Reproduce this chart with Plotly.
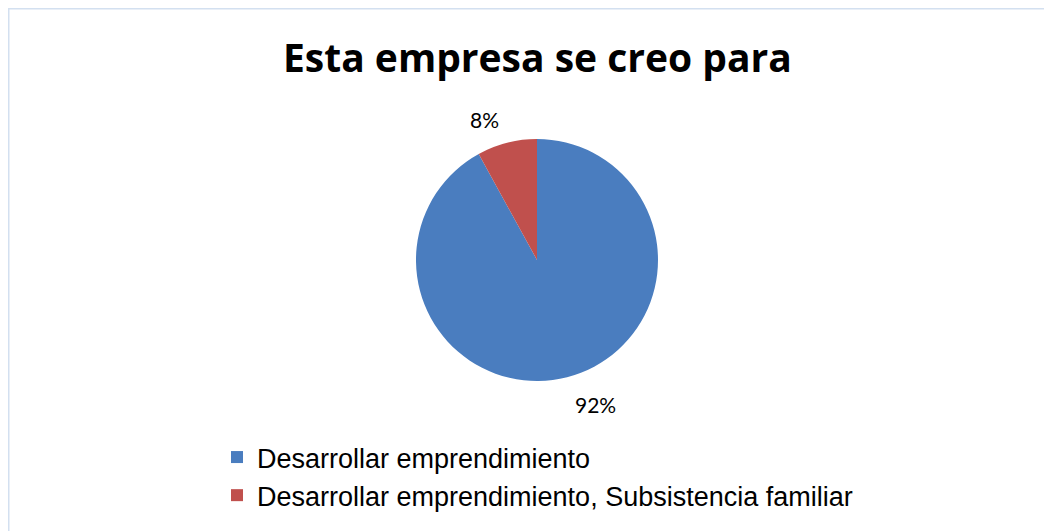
import plotly.graph_objects as go

labels = ["Desarrollar emprendimiento", "Desarrollar emprendimiento, Subsistencia familiar"]
values = [92, 8]
colors = ["#4A7DBF", "#C0504D"]
pct_text = ["92%", "8%"]
title_text = "Esta empresa se creo para"

W, H = 1052, 531
OFF = 8  # page body margin in the browser


def px(x):
    return (x - OFF) / W


def py(y):
    return 1 - (y - OFF) / H


fig = go.Figure()
fig.add_trace(go.Pie(
    labels=labels,
    values=values,
    sort=False,
    direction="clockwise",
    rotation=0,
    marker=dict(colors=colors, line=dict(width=0)),
    textinfo="none",
    hoverinfo="label+percent",
    domain=dict(x=[px(416), px(658)], y=[py(381), py(139)]),
))

annotations = [
    dict(text="<b>" + title_text + "</b>", x=px(537), y=py(56), xref="paper", yref="paper",
         xanchor="center", yanchor="middle", showarrow=False,
         font=dict(family="Open Sans", size=39, color="#000000")),
    dict(text=pct_text[1], x=px(484), y=py(120), xref="paper", yref="paper",
         xanchor="center", yanchor="middle", showarrow=False,
         font=dict(family="Lato", size=21, color="#000000")),
    dict(text=pct_text[0], x=px(595), y=py(404), xref="paper", yref="paper",
         xanchor="center", yanchor="middle", showarrow=False,
         font=dict(family="Lato", size=21, color="#000000")),
]

fig.update_layout(
    width=W, height=H,
    margin=dict(l=0, r=0, t=0, b=0),
    paper_bgcolor="white",
    plot_bgcolor="white",
    annotations=annotations,
    showlegend=True,
    legend=dict(
        orientation="v",
        x=px(217), y=py(433),
        xanchor="left", yanchor="top",
        font=dict(family="Liberation Sans", size=27, color="#000000"),
        itemwidth=30,
        tracegroupgap=0,
        bgcolor="rgba(0,0,0,0)",
    ),
    shapes=[
        dict(type="rect", xref="paper", yref="paper",
             x0=0, x1=1.05, y0=-0.05, y1=1,
             line=dict(color="#D3E0F0", width=3), fillcolor="rgba(0,0,0,0)", layer="below"),
    ],
)

fig.write_html("out.html")
